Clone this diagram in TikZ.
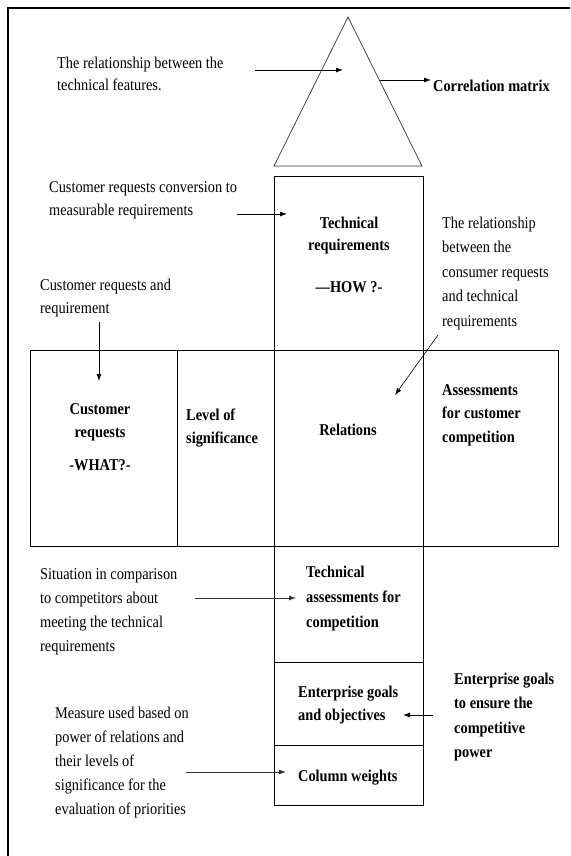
\documentclass[tikz,border=0pt]{standalone}
\usepackage{fontspec}
\setmainfont{Liberation Serif}[FakeStretch=0.87]
\usetikzlibrary{arrows.meta}
\begin{document}
\begin{tikzpicture}[x=1pt,y=-1pt,
  lbl/.style={anchor=base west,inner sep=0pt,align=left,font=\fontsize{16.5}{#1}\selectfont},
  lbl/.default=24,
  blbl/.style={anchor=base west,inner sep=0pt,align=left,font=\fontsize{16.5}{#1}\selectfont\bfseries},
  blbl/.default=24,
  clbl/.style={blbl=#1,anchor=base,align=center},
  clbl/.default=23,
  arr/.style={-{Latex[length=7pt,width=5pt]},line width=0.8pt},
  cell/.style={draw,line width=0.8pt,anchor=north west,inner sep=0pt}]
\useasboundingbox (0,0) rectangle (570,856);
% outer frame (cut off at right and bottom)
\draw[line width=1.4pt] (8,856) -- (8,8) -- (570,8);
% correlation matrix roof
\coordinate (apex) at (348,17);
\coordinate (bl) at (274,166);
\coordinate (br) at (422,166);
\draw[line width=0.7pt,draw=black!80] (bl) -- (apex) -- (br) -- cycle;
% cells
\node[cell,minimum width=149pt,minimum height=174pt] (tech) at (274,176) {};
\node[cell,minimum width=528pt,minimum height=196pt] (row) at (30,350) {};
\node[cell,minimum width=147pt,minimum height=196pt] (cust) at (30,350) {};
\node[cell,minimum width=97pt,minimum height=196pt] (level) at (177,350) {};
\node[cell,minimum width=149pt,minimum height=196pt] (rel) at (274,350) {};
\node[cell,minimum width=135pt,minimum height=196pt] (assess) at (423,350) {};
\node[cell,minimum width=149pt,minimum height=116pt] (techass) at (274,546) {};
\node[cell,minimum width=149pt,minimum height=83pt] (goals) at (274,662) {};
\node[cell,minimum width=149pt,minimum height=60pt] (weights) at (274,745) {};
% texts (anchored at the baseline of their last line)
\node[lbl=21.5] (t1) at (57,90.5) {The relationship between the\\technical features.};
\node[blbl] (t2) at (433,92) {Correlation matrix};
\node[lbl=23] (t3) at (49,215) {Customer requests conversion to\\measurable requirements};
\node[clbl=22] (t4) at (349,292) {Technical\\requirements\\[20pt]—HOW ?-};
\node[lbl=24.5] (t5) at (442,326) {The relationship\\between the\\consumer requests\\and technical\\requirements};
\node[lbl=23] (t6) at (40,313) {Customer requests and\\requirement};
\node[clbl=23] (t7) at (100,470) {Customer\\requests\\[10pt]-WHAT?-};
\node[blbl=23] (t8) at (186,443) {Level of\\significance};
\node[clbl] (t9) at (348,435) {Relations};
\node[blbl=23.5] (t10) at (442,442) {Assessments\\for customer\\competition};
\node[lbl=24] (t11) at (40,651) {Situation in comparison\\to competitors about\\meeting the technical\\requirements};
\node[blbl=25] (t12) at (306,627) {Technical\\assessments for\\competition};
\node[blbl=23] (t13) at (298,720) {Enterprise goals\\and objectives};
\node[blbl=24.5] (t14) at (454,757.5) {Enterprise goals\\to ensure the\\competitive\\power};
\node[blbl] (t15) at (298,781) {Column weights};
\node[lbl=24] (t16) at (55,814) {Measure used based on\\power of relations and\\their levels of\\significance for the\\evaluation of priorities};
% connector end points
\coordinate (a1s) at (255,70);  \coordinate (a1e) at (343,70);
\coordinate (a2s) at (380,80);  \coordinate (a2e) at (431,80);
\coordinate (a3s) at (237,214); \coordinate (a3e) at (287,214);
\coordinate (a4s) at (438,335); \coordinate (a4e) at (395,395);
\coordinate (a5s) at (99,322);  \coordinate (a5e) at (99,381);
\coordinate (a6s) at (195,598); \coordinate (a6e) at (296,598);
\coordinate (a7s) at (433,715); \coordinate (a7e) at (403,715);
\coordinate (a8s) at (186,772); \coordinate (a8e) at (286,772);
\draw[arr] (a1s) -- (a1e);
\draw[arr] (a2s) -- (a2e);
\draw[arr] (a3s) -- (a3e);
\draw[arr,line width=0.6pt] (a4s) -- (a4e);
\draw[arr] (a5s) -- (a5e);
\draw[arr,draw=black!80] (a6s) -- (a6e);
\draw[arr] (a7s) -- (a7e);
\draw[arr,draw=black!80] (a8s) -- (a8e);
\end{tikzpicture}
\end{document}
